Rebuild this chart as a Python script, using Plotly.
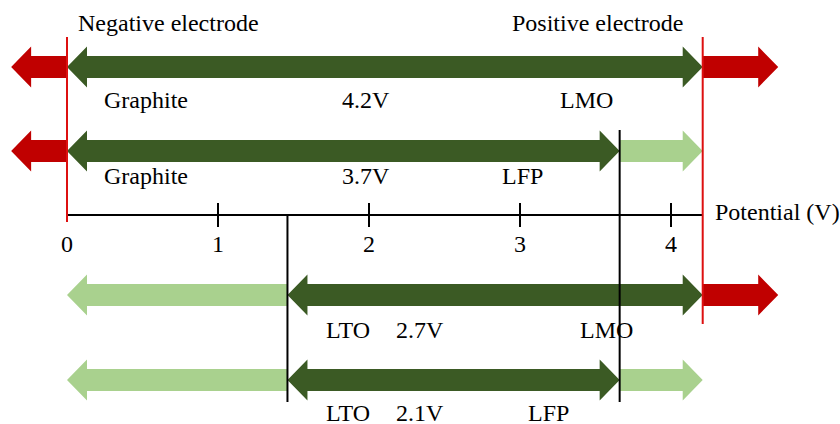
import plotly.graph_objects as go

# ---- data (potentials in V vs Li/Li+) ----
NEG_NAME = ["Graphite", "Graphite", "LTO", "LTO"]
POS_NAME = ["LMO", "LFP", "LMO", "LFP"]
CELL_V = ["4.2V", "3.7V", "2.7V", "2.1V"]
NEG_POT = [0.0, 0.0, 1.46, 1.46]
POS_POT = [4.21, 3.66, 4.21, 3.66]
WINDOW = [0.0, 4.21]           # electrolyte stability window (red lines)
OVERSHOOT = [-0.37, 4.71]      # how far the red arrows reach outside it
TICKS = [0, 1, 2, 3, 4]
TICK_TEXT = ["0", "1", "2", "3", "4"]

DARK = "#3b5a24"
LIGHT = "#a9d18e"
RED = "#c00000"
RED_LINE = "#dd1010"
FONT = "Liberation Serif"

# ---- layout helpers (x in volts, y in px from top) ----
PX_PER_V = 151.0
X0 = 67.0
ROW_Y = [67, 151, 295, 380]
LABEL_Y = [100, 176, 330, 413]
AXIS_Y = 215
HEAD = 20 / PX_PER_V
HALF_HEAD = 20.5
HALF_SHAFT = 11


def v(px):
    return (px - X0) / PX_PER_V


def arrow(a, b, y, color, both=False):
    # arrow from a to b (tip at b), optional head at a too
    d = 1 if b > a else -1
    xs, ys = [], []
    if both:
        xs += [a, a + d * HEAD, a + d * HEAD]
        ys += [y, y - HALF_HEAD, y - HALF_SHAFT]
    else:
        xs += [a]
        ys += [y - HALF_SHAFT]
    xs += [b - d * HEAD, b - d * HEAD, b, b - d * HEAD, b - d * HEAD]
    ys += [y - HALF_SHAFT, y - HALF_HEAD, y, y + HALF_HEAD, y + HALF_SHAFT]
    if both:
        xs += [a + d * HEAD, a + d * HEAD, a]
        ys += [y + HALF_SHAFT, y + HALF_HEAD, y]
    else:
        xs += [a]
        ys += [y + HALF_SHAFT]
    xs.append(xs[0])
    ys.append(ys[0])
    return go.Scatter(x=xs, y=ys, mode="lines", fill="toself", fillcolor=color,
                      line=dict(width=0, color=color), hoverinfo="skip", showlegend=False)


def vline(x, y0, y1, color):
    return go.Scatter(x=[x, x], y=[y0, y1], mode="lines", line=dict(color=color, width=2),
                      hoverinfo="skip", showlegend=False)


fig = go.Figure()

for i in range(4):
    y = ROW_Y[i]
    neg, pos = NEG_POT[i], POS_POT[i]
    # left: outside the window -> red, else light green down to 0 V
    if neg <= WINDOW[0]:
        fig.add_trace(arrow(neg, OVERSHOOT[0], y, RED))
    else:
        fig.add_trace(arrow(neg, WINDOW[0], y, LIGHT))
    fig.add_trace(arrow(neg, pos, y, DARK, both=True))
    if pos >= WINDOW[1]:
        fig.add_trace(arrow(pos, OVERSHOOT[1], y, RED))
    else:
        fig.add_trace(arrow(pos, WINDOW[1], y, LIGHT))

# potential axis
fig.add_trace(go.Scatter(x=[WINDOW[0], WINDOW[1]], y=[AXIS_Y, AXIS_Y], mode="lines",
                         line=dict(color="black", width=2), hoverinfo="skip", showlegend=False))
for t in TICKS[1:]:
    fig.add_trace(vline(t, AXIS_Y - 12, AXIS_Y + 12, "black"))

# electrode potential guide lines
fig.add_trace(vline(NEG_POT[2], AXIS_Y, 402, "black"))
fig.add_trace(vline(POS_POT[1], 130, 402, "black"))
fig.add_trace(vline(WINDOW[0], 37, 222, RED_LINE))
fig.add_trace(vline(WINDOW[1], 37, 324, RED_LINE))

ann = []


def txt(x, y, s, anchor="center"):
    ann.append(dict(x=x, y=y, text=s, showarrow=False, xanchor=anchor, yanchor="middle",
                    font=dict(family=FONT, size=24, color="black")))


txt(v(168), 23, "Negative electrode")
txt(v(597), 23, "Positive electrode")
neg_x = [v(146), v(146), v(348), v(348)]
volt_x = [v(366), v(366), v(420), v(420)]
pos_x = [v(586), v(522), v(606), v(548)]
for i in range(4):
    txt(neg_x[i], LABEL_Y[i], NEG_NAME[i])
    txt(volt_x[i], LABEL_Y[i], CELL_V[i])
    txt(pos_x[i], LABEL_Y[i], POS_NAME[i])
for t, s in zip(TICKS, TICK_TEXT):
    txt(t, 244, s)
txt(v(713), 212, "Potential (V)", anchor="left")

fig.update_layout(
    width=840, height=424,
    margin=dict(l=0, r=0, t=0, b=0),
    plot_bgcolor="white", paper_bgcolor="white",
    annotations=ann,
    xaxis=dict(range=[v(0), v(840)], visible=False, fixedrange=True),
    yaxis=dict(range=[424, 0], visible=False, fixedrange=True),
)

fig.write_html("out.html", config={"displayModeBar": False},
               post_script="document.body.style.margin='0';document.body.style.overflow='hidden';")
